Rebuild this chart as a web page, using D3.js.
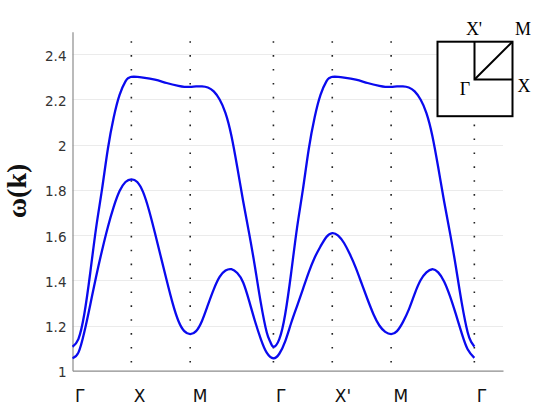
<!DOCTYPE html>
<html><head><meta charset="utf-8">
<script src="https://cdn.jsdelivr.net/npm/d3@7"></script>
<style>body{margin:0;background:#fff}svg{display:block}</style>
</head><body>
<script>
// symmetry points along the path
const symLabels = ["Γ","X","M","Γ","X'","M","Γ"];
const symPositions = [0, 1, 2, 3.414, 4.414, 5.414, 6.828];
const yTicks = [1, 1.2, 1.4, 1.6, 1.8, 2, 2.2, 2.4];
const yTickLabels = ["1","1.2","1.4","1.6","1.8","2","2.2","2.4"];

// upper band (k, omega)
const upperK = [0,0.1,0.2,0.3,0.4,0.5,0.6,0.7,0.8,0.9,0.95,1.0,
  1.1,1.2,1.4,1.6,1.8,1.9,2.0,2.1,2.2,
  2.3,2.4,2.5,2.6,2.7,2.8,2.9,3.0,3.1,3.2,3.3,3.36,3.414,
  3.514,3.614,3.714,3.814,3.914,4.014,4.114,4.214,4.314,4.364,4.414,
  4.514,4.614,4.814,5.014,5.214,5.314,5.414,5.514,5.614,
  5.714,5.814,5.914,6.014,6.114,6.214,6.314,6.414,6.514,6.614,6.714,6.774,6.828];
const upperW = [1.106,1.14,1.25,1.43,1.63,1.80,1.98,2.12,2.22,2.28,2.295,2.30,
  2.30,2.297,2.288,2.273,2.26,2.256,2.256,2.258,2.258,
  2.253,2.236,2.20,2.14,2.04,1.90,1.75,1.61,1.46,1.30,1.17,1.128,1.106,
  1.14,1.25,1.43,1.63,1.80,1.98,2.12,2.22,2.28,2.295,2.30,
  2.30,2.297,2.288,2.273,2.26,2.256,2.256,2.258,2.258,
  2.253,2.236,2.20,2.14,2.04,1.90,1.75,1.61,1.46,1.30,1.17,1.128,1.106];

// lower band (k, omega)
const lowerK = [0,0.1,0.2,0.3,0.4,0.5,0.6,0.7,0.8,0.9,1.0,
  1.1,1.2,1.3,1.4,1.5,1.6,1.7,1.8,1.9,2.0,
  2.1,2.2,2.3,2.4,2.5,2.6,2.7,2.8,2.9,3.0,3.1,3.2,3.3,3.414,
  3.514,3.614,3.714,3.814,3.914,4.014,4.114,4.214,4.314,4.414,
  4.514,4.614,4.714,4.814,4.914,5.014,5.114,5.214,5.314,5.414,
  5.514,5.614,5.714,5.814,5.914,6.014,6.114,6.214,6.314,6.414,6.514,6.614,6.714,6.828];
const lowerW = [1.055,1.08,1.17,1.29,1.415,1.53,1.635,1.725,1.795,1.835,1.847,
  1.835,1.79,1.71,1.61,1.505,1.40,1.30,1.22,1.175,1.162,
  1.175,1.22,1.29,1.36,1.415,1.443,1.449,1.432,1.39,1.31,1.22,1.14,1.08,1.055,
  1.075,1.13,1.21,1.285,1.36,1.435,1.50,1.55,1.592,1.609,
  1.598,1.565,1.515,1.455,1.385,1.315,1.25,1.20,1.172,1.162,
  1.175,1.215,1.27,1.34,1.40,1.435,1.449,1.435,1.395,1.33,1.25,1.165,1.095,1.057];

const W = 556, H = 417;
const svg = d3.select("body").append("svg").attr("width", W).attr("height", H);

const x = d3.scaleLinear().domain([0, 7.315]).range([72.5, 503]);
const y = d3.scaleLinear().domain([1, 2.5]).range([370.7, 31.7]);

// grid
svg.append("g").selectAll("line").data(yTicks.slice(1)).join("line")
  .attr("x1", x(0)).attr("x2", x(7.315))
  .attr("y1", d => Math.round(y(d)) + 0.5).attr("y2", d => Math.round(y(d)) + 0.5)
  .attr("stroke", "#ebebeb").attr("stroke-width", 1.2);

// dotted verticals
svg.append("g").selectAll("line").data(symPositions.slice(1)).join("line")
  .attr("x1", d => x(d)).attr("x2", d => x(d))
  .attr("y1", 362.5).attr("y2", 41)
  .attr("stroke", "#222").attr("stroke-width", 1.6)
  .attr("stroke-dasharray", "1.6 12.3");

// y axis
const yAxis = d3.axisLeft(y).tickValues(yTicks).tickFormat((d, i) => yTickLabels[i]).tickSize(0).tickPadding(6);
const gy = svg.append("g").attr("transform", `translate(${x(0)},0)`).call(yAxis);
gy.select(".domain").attr("stroke", "#8c8c8c").attr("stroke-width", 1.2);
gy.selectAll("text").attr("font-family", "DejaVu Sans").attr("font-size", 13.5).attr("fill", "#333")
  .attr("dy", "0.45em");

// x axis
const xAxis = d3.axisBottom(x).tickValues(symPositions).tickFormat((d, i) => symLabels[i]).tickSize(0).tickPadding(0);
const gx = svg.append("g").attr("transform", `translate(0,${y(1)})`).call(xAxis);
gx.select(".domain").attr("stroke", "#8c8c8c").attr("stroke-width", 1.2);
gx.selectAll("text").attr("font-family", "DejaVu Sans").attr("font-size", 17).attr("fill", "#111")
  .attr("text-anchor", "start").attr("x", 2).attr("y", 31).attr("dy", 0);

// curves
const line = d3.line().x(d => x(d[0])).y(d => y(d[1])).curve(d3.curveNatural);
const bands = [d3.zip(upperK, upperW), d3.zip(lowerK, lowerW)];
svg.append("g").selectAll("path").data(bands).join("path")
  .attr("d", line).attr("fill", "none").attr("stroke", "#0a0aee").attr("stroke-width", 2.3)
  .attr("stroke-linejoin", "round");

// y label
svg.append("text").attr("transform", "translate(26,191) rotate(-90)")
  .attr("text-anchor", "middle").attr("font-family", "Liberation Serif").attr("font-weight", "bold")
  .attr("font-size", 28).attr("fill", "#111").text("ω(k)");

// inset Brillouin zone
const ins = svg.append("g").attr("stroke", "#000").attr("stroke-width", 2).attr("fill", "none");
ins.append("rect").attr("x", 437.5).attr("y", 41.7).attr("width", 75).attr("height", 74.5).attr("fill", "#fff");
ins.append("path").attr("d", "M474.5,41.7 L474.5,79.5 L512.5,79.5");
ins.append("line").attr("x1", 474.5).attr("y1", 79.5).attr("x2", 512.5).attr("y2", 41.7);
const insetLabels = [["X'", 474, 35, "middle"], ["M", 523, 35, "middle"], ["X", 524, 92, "middle"], ["Γ", 465, 95, "middle"]];
svg.append("g").selectAll("text").data(insetLabels).join("text")
  .attr("x", d => d[1]).attr("y", d => d[2]).attr("text-anchor", d => d[3])
  .attr("font-family", "Liberation Serif").attr("font-size", 18).attr("fill", "#000").text(d => d[0]);
</script>
</body></html>
